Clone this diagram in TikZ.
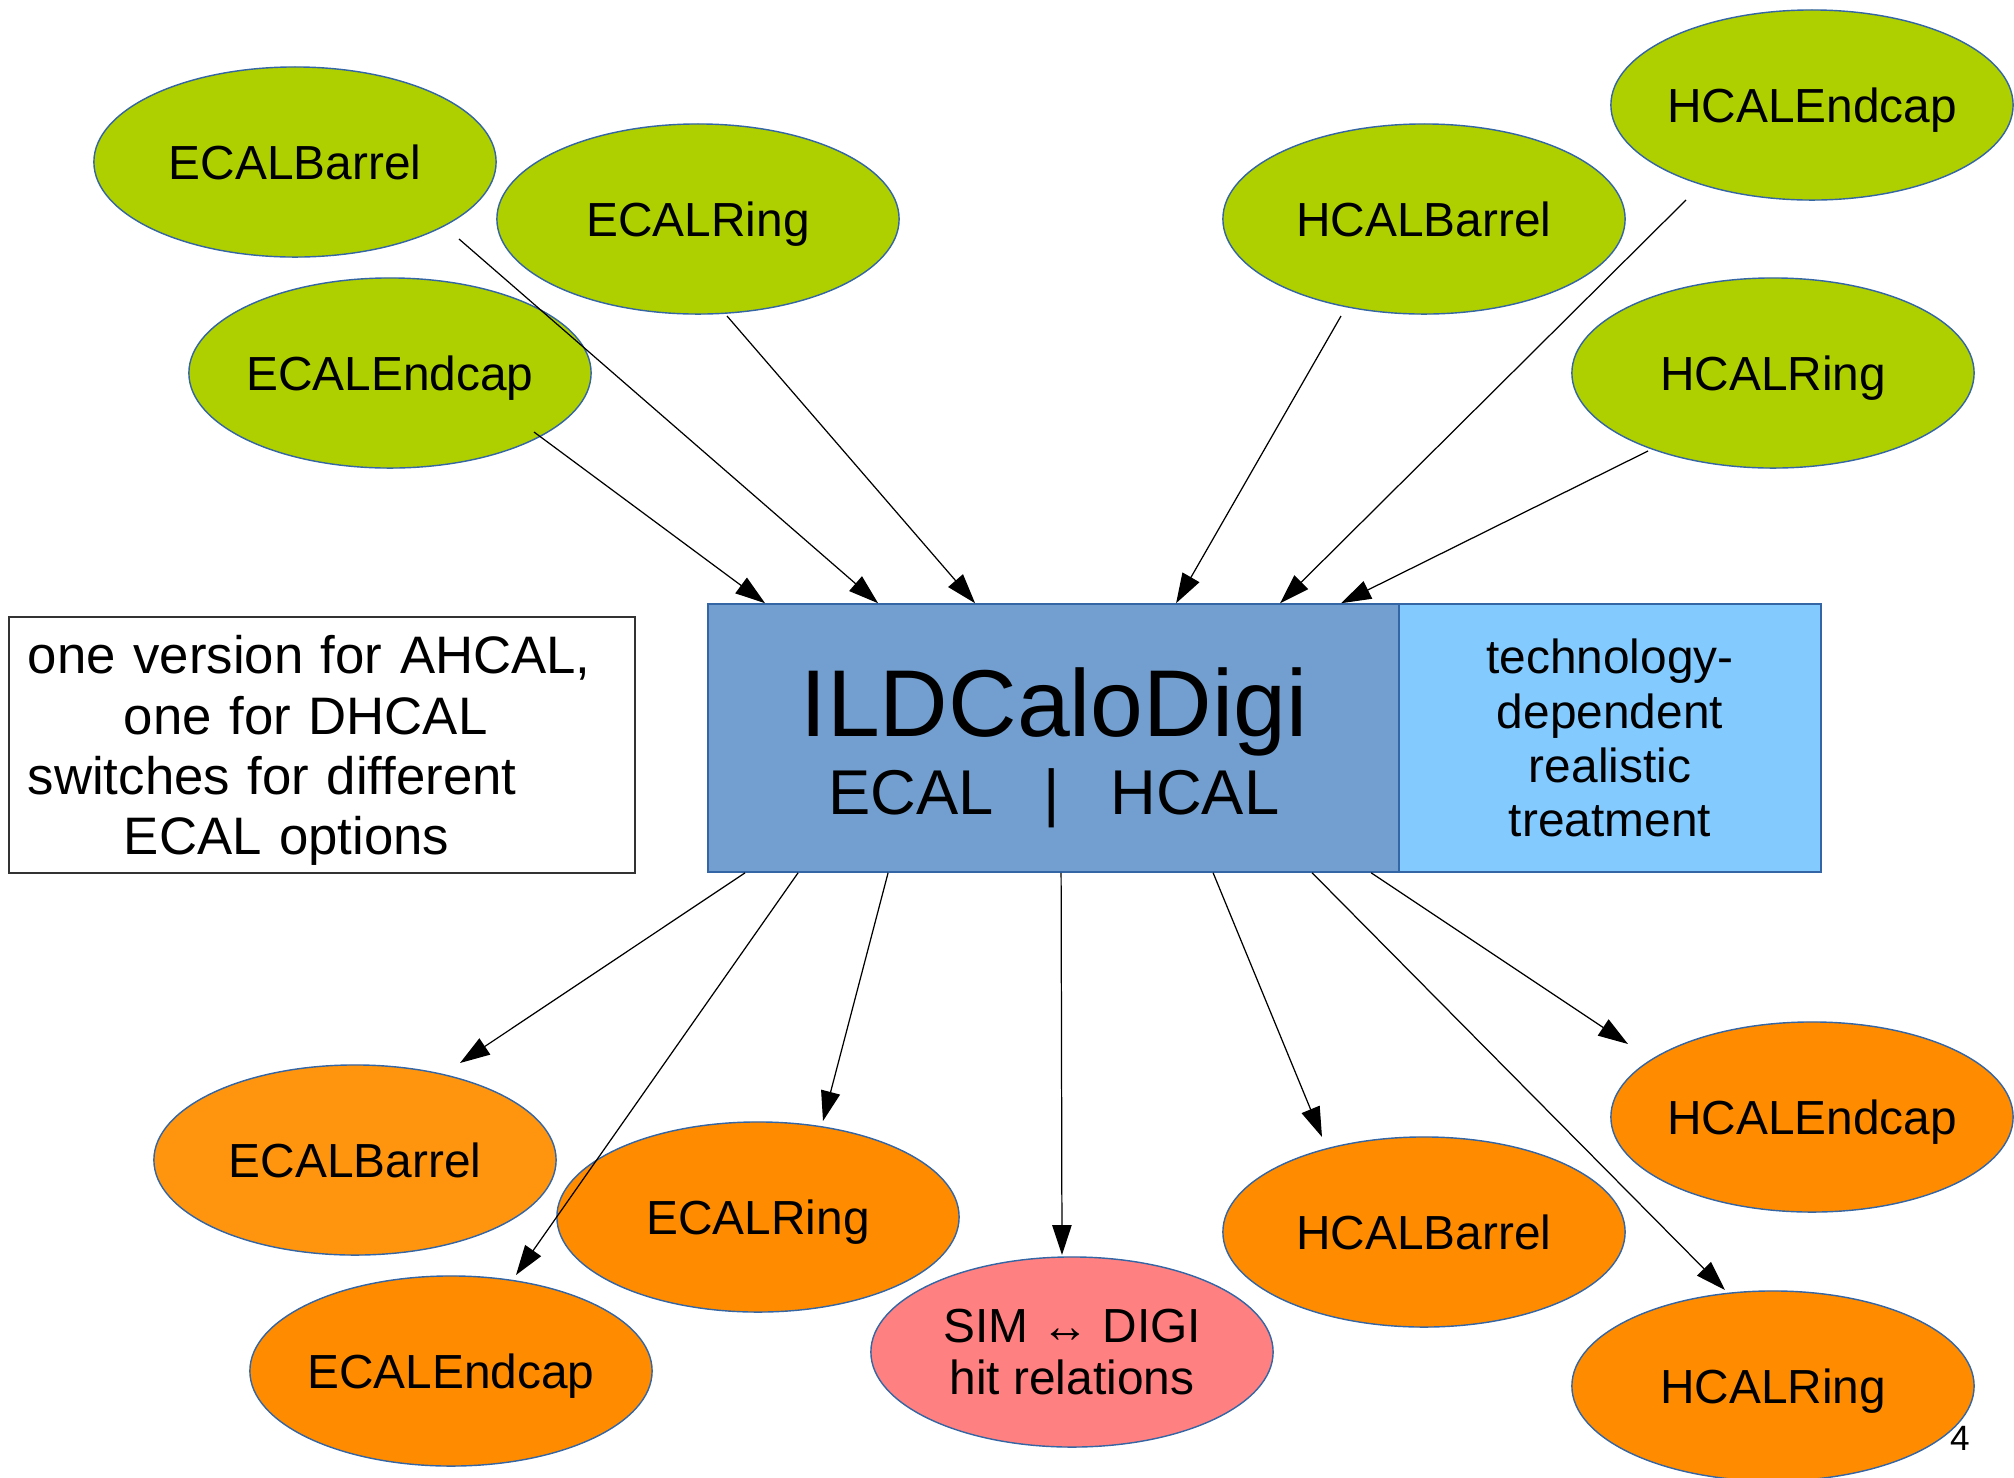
\documentclass[tikz,border=0pt]{standalone}
\usepackage{fontspec}
\setmainfont{Liberation Sans}
\usetikzlibrary{shapes.geometric,arrows.meta}
\definecolor{calgreen}{HTML}{AECF00}
\definecolor{calorange}{HTML}{FF8C00}
\definecolor{calorangeb}{HTML}{FF950E}
\definecolor{calpink}{HTML}{FF8080}
\definecolor{calblue}{HTML}{729FCF}
\definecolor{callight}{HTML}{83CAFF}
\definecolor{calborder}{HTML}{3465A4}
\begin{document}
\begin{tikzpicture}[x=0.01cm,y=-0.01cm,>={Triangle[length=8.5pt,width=5.5pt]}]

\tikzset{ellnode/.style={ellipse,minimum width=4.02cm,minimum height=1.9cm,inner ysep=0pt,inner xsep=-10pt,draw=calborder,line width=0.4pt,font=\fontsize{13.6}{15}\selectfont,align=center},}
\tikzset{simnode/.style={ellnode,fill=calgreen,text depth=0pt},}
\tikzset{recnode/.style={ellnode,fill=calorange,text depth=0pt},}
\tikzset{calobox/.style={rectangle,minimum height=2.68cm,inner sep=0pt,draw=calborder,line width=0.4pt},}
\tikzset{edge/.style={->,line width=0.35pt},}

\useasboundingbox (0,0) rectangle (2014,1478);

  % input collections
  \draw (295,162) node[simnode](sEB) {ECALBarrel};
  \draw (698,219) node[simnode](sER) {ECALRing};
  \draw (390,373) node[simnode](sEE) {ECALEndcap};
  \draw (1424,219) node[simnode](sHB) {HCALBarrel};
  \draw (1812,105) node[simnode](sHE) {HCALEndcap};
  \draw (1773,373) node[simnode](sHR) {HCALRing};

  % processor
  \draw (1053.5,738) node[calobox,minimum width=6.91cm,fill=calblue](calo) {};
  \draw (1610,738) node[calobox,minimum width=4.22cm,fill=callight,align=center,font=\fontsize{13.6}{15.4}\selectfont](tech) {technology-\\dependent\\realistic\\treatment};
  \draw (1054,736) node[anchor=base,inner sep=0pt,font=\fontsize{27}{30}\selectfont](title) {ILDCaloDigi};
  \draw (1054,814) node[anchor=base,inner sep=0pt,font=\fontsize{18}{20}\selectfont](sub) {ECAL\hspace{0.5cm}|\hspace{0.5cm}HCAL};

  \draw (322,745) node[rectangle,draw=black!80,line width=0.4pt,minimum width=6.26cm,minimum height=2.56cm,inner xsep=0.19cm,inner ysep=0pt,text width=5.88cm,align=left,font=\fontsize{15}{17.1}\selectfont](note) {\rule{0pt}{14pt}one version for AHCAL,\\\hspace*{0.96cm}one for DHCAL\\switches for different\\\hspace*{0.96cm}ECAL options};

  % output collections
  \draw (355,1160) node[recnode,fill=calorangeb](rEB) {ECALBarrel};
  \draw (758,1217) node[recnode](rER) {ECALRing};
  \draw (451,1371) node[recnode](rEE) {ECALEndcap};
  \draw (1072,1352) node[ellnode,fill=calpink](rel) {SIM ↔ DIGI\\hit relations};
  \draw (1424,1232) node[recnode](rHB) {HCALBarrel};
  \draw (1812,1117) node[recnode](rHE) {HCALEndcap};
  \draw (1773,1386) node[recnode](rHR) {HCALRing};

  \draw (1960,1438) node[font=\fontsize{10}{12}\selectfont](page) {4};

  %edges into calo
    \draw[edge] ([shift={(164,77)}]sEB.center) to ([shift={(171,0)}]calo.north west);
    \draw[edge] ([shift={(144,59)}]sEE.center) to ([shift={(58,0)}]calo.north west);
    \draw[edge] ([shift={(29,97)}]sER.center) to ([shift={(268,0)}]calo.north west);
    \draw[edge] ([shift={(-83,97)}]sHB.center) to ([shift={(469,0)}]calo.north west);
    \draw[edge] ([shift={(-126,95)}]sHE.center) to ([shift={(573,0)}]calo.north west);
    \draw[edge] ([shift={(-125,78)}]sHR.center) to ([shift={(634,0)}]calo.north west);

  %edges out of calo
    \draw[edge] ([shift={(38,0)}]calo.south west) to ([shift={(105,-97)}]rEB.center);
    \draw[edge] ([shift={(91,0)}]calo.south west) to ([shift={(65,-96)}]rEE.center);
    \draw[edge] ([shift={(181,0)}]calo.south west) to ([shift={(65,-96)}]rER.center);
    \draw[edge] ([shift={(354,0)}]calo.south west) to ([shift={(-10,-97)}]rel.center);
    \draw[edge] ([shift={(506,0)}]calo.south west) to ([shift={(-102,-95)}]rHB.center);
    \draw[edge] ([shift={(605,0)}]calo.south west) to ([shift={(-48,-96)}]rHR.center);
    \draw[edge] ([shift={(664,0)}]calo.south west) to ([shift={(-184,-73)}]rHE.center);

\end{tikzpicture}
\end{document}
